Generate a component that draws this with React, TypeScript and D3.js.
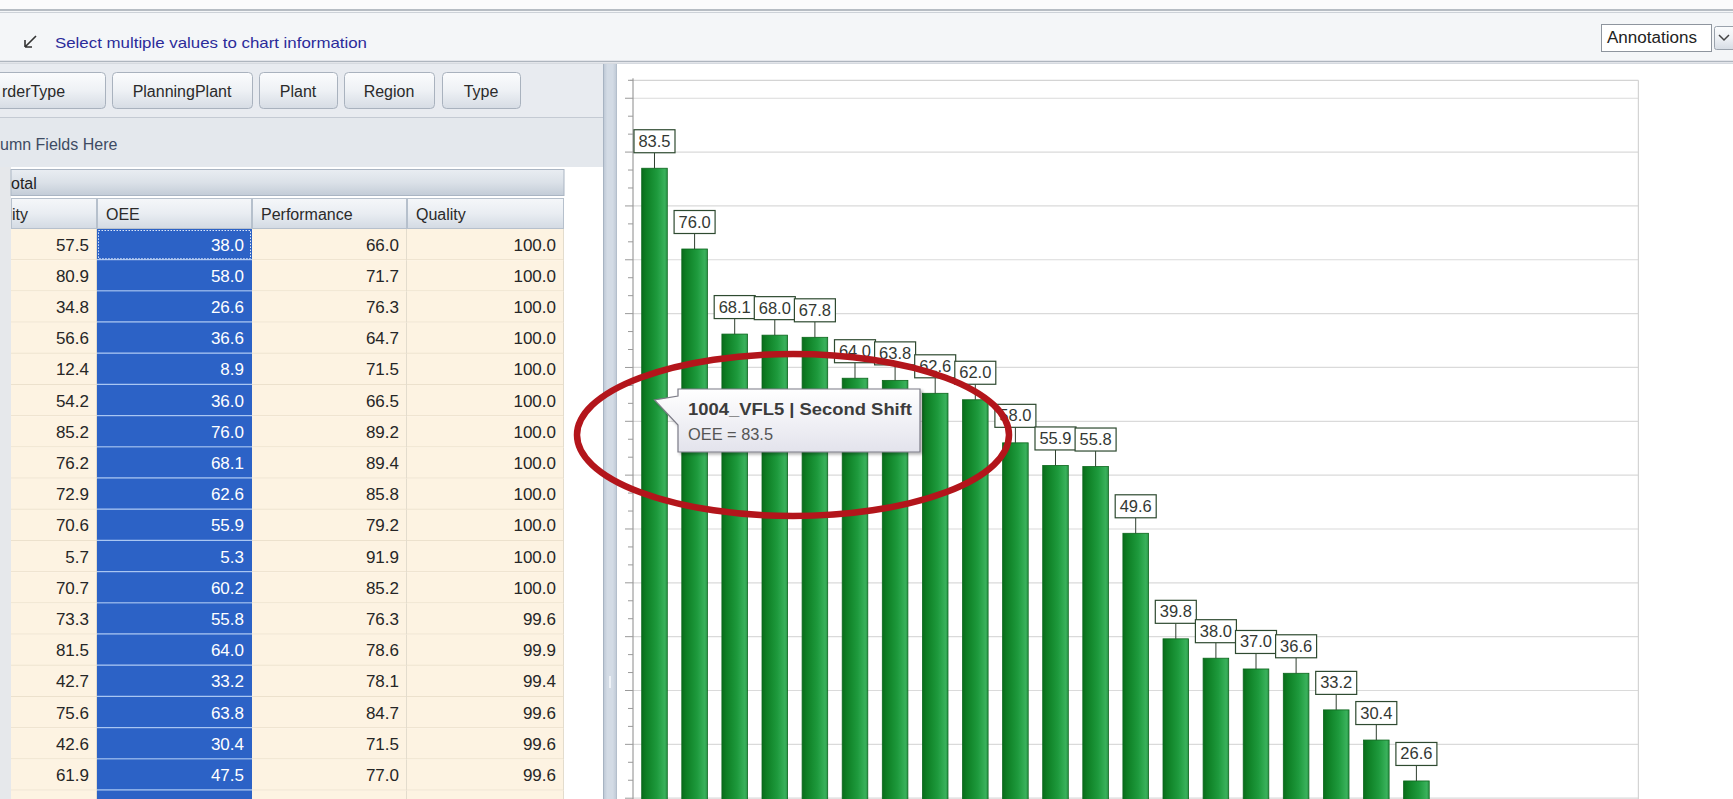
import React from 'react';
import * as d3 from 'd3';

// ---------- DATA ----------
const CATEGORIES = [
  '1004_VFL5 | Second Shift', 'C02', 'C03', 'C04', 'C05', 'C06', 'C07', 'C08', 'C09', 'C10',
  'C11', 'C12', 'C13', 'C14', 'C15', 'C16', 'C17', 'C18', 'C19', 'C20',
  'C21', 'C22', 'C23', 'C24', 'C25',
];
const OEE_VALUES = [
  83.5, 76.0, 68.1, 68.0, 67.8, 64.0, 63.8, 62.6, 62.0, 58.0,
  55.9, 55.8, 49.6, 39.8, 38.0, 37.0, 36.6, 33.2, 30.4, 26.6,
  21.1, 17.0, 12.4, 8.9, 5.3,
];
const Y_AXIS_MAX = 90 + 5 / 3;
const GRID_STEP = 5;
const MINOR_DIVISIONS = 3;

const TOOLTIP_TITLE = '1004_VFL5 | Second Shift';
const TOOLTIP_BODY = 'OEE = 83.5';

const FIELD_BUTTONS = ['rderType', 'PlanningPlant', 'Plant', 'Region', 'Type'];
const TABLE_HEADERS = ['ity', 'OEE', 'Performance', 'Quality'];
const AVAILABILITY_COL = ['57.5', '80.9', '34.8', '56.6', '12.4', '54.2', '85.2', '76.2', '72.9', '70.6', '5.7', '70.7', '73.3', '81.5', '42.7', '75.6', '42.6', '61.9'];
const OEE_COL = ['38.0', '58.0', '26.6', '36.6', '8.9', '36.0', '76.0', '68.1', '62.6', '55.9', '5.3', '60.2', '55.8', '64.0', '33.2', '63.8', '30.4', '47.5'];
const PERFORMANCE_COL = ['66.0', '71.7', '76.3', '64.7', '71.5', '66.5', '89.2', '89.4', '85.8', '79.2', '91.9', '85.2', '76.3', '78.6', '78.1', '84.7', '71.5', '77.0'];
const QUALITY_COL = ['100.0', '100.0', '100.0', '100.0', '100.0', '100.0', '100.0', '100.0', '100.0', '100.0', '100.0', '100.0', '99.6', '99.9', '99.4', '99.6', '99.6', '99.6'];

// ---------- LAYOUT ----------
const W = 1733;
const H = 799;
const FONT = '"Liberation Sans", Arial, sans-serif';

const PLOT = { left: 633, right: 1638.4, top: 80.3, zeroY: 1067.4 };

const COL_EDGES = [11, 97, 252, 407, 564];
const HEADER_TOP = 198;
const ROW_TOP = 229;
const ROW_H = 31.2;

const BUTTON_X = [[-10, 105], [112, 252], [259, 337], [344, 434], [442, 520]];

export default function App() {
  React.useEffect(() => {
    document.body.style.margin = '0';
  }, []);

  const x = d3
    .scaleBand<string>()
    .domain(CATEGORIES)
    .range([PLOT.left, PLOT.right])
    .paddingInner(0.362)
    .paddingOuter(0.217);
  const y = d3.scaleLinear().domain([0, Y_AXIS_MAX]).range([PLOT.zeroY, PLOT.top]);
  const bw = x.bandwidth();

  const gridVals = d3.range(GRID_STEP, Y_AXIS_MAX, GRID_STEP);
  const minorStep = GRID_STEP / MINOR_DIVISIONS;
  const minorVals = d3.range(minorStep, Y_AXIS_MAX + 0.01, minorStep);

  const rows = AVAILABILITY_COL.map((a, i) => [a, OEE_COL[i], PERFORMANCE_COL[i], QUALITY_COL[i]]);
  const rowCount = rows.length + 1;

  // tooltip anchored at first bar
  const tipX = (x(CATEGORIES[0]) as number) + bw / 2;
  const tipY = 400;
  const tb = { x: 678, y: 389, w: 242, h: 63 };

  const LABEL_GAP = 15.5;
  const LABEL_H = 23;

  return (
    <svg
      width={W}
      height={H}
      style={{ position: 'fixed', left: 0, top: 0, display: 'block', background: '#ffffff' }}
      fontFamily={FONT}
    >
      <defs>
        <linearGradient id="barGrad" x1="0" x2="1" y1="0" y2="0">
          <stop offset="0" stopColor="#0a6c1b" />
          <stop offset="0.18" stopColor="#0e7f24" />
          <stop offset="0.6" stopColor="#1e9a3d" />
          <stop offset="0.9" stopColor="#39b15b" />
          <stop offset="1" stopColor="#2b9549" />
        </linearGradient>
        <linearGradient id="btnGrad" x1="0" x2="0" y1="0" y2="1">
          <stop offset="0" stopColor="#fbfcfd" />
          <stop offset="0.5" stopColor="#eef1f5" />
          <stop offset="1" stopColor="#d6dce4" />
        </linearGradient>
        <linearGradient id="hdrGrad" x1="0" x2="0" y1="0" y2="1">
          <stop offset="0" stopColor="#f5f7f9" />
          <stop offset="0.5" stopColor="#e9edf2" />
          <stop offset="1" stopColor="#d3dae3" />
        </linearGradient>
        <linearGradient id="totGrad" x1="0" x2="0" y1="0" y2="1">
          <stop offset="0" stopColor="#e9edf2" />
          <stop offset="0.5" stopColor="#dbe1e8" />
          <stop offset="1" stopColor="#c3ccd7" />
        </linearGradient>
        <linearGradient id="tipGrad" x1="0" x2="0" y1="0" y2="1">
          <stop offset="0" stopColor="#ffffff" />
          <stop offset="1" stopColor="#e3e3ec" />
        </linearGradient>
        <linearGradient id="splitGrad" x1="0" x2="1" y1="0" y2="0">
          <stop offset="0" stopColor="#b9c4d2" />
          <stop offset="0.3" stopColor="#d3dbe5" />
          <stop offset="0.7" stopColor="#d3dbe5" />
          <stop offset="1" stopColor="#bcc6d3" />
        </linearGradient>
        <filter id="shadow" x="-10%" y="-10%" width="130%" height="140%">
          <feDropShadow dx="2" dy="2" stdDeviation="1.8" floodColor="#000" floodOpacity="0.3" />
        </filter>
        <clipPath id="tableClip">
          <rect x={0} y={0} width={603} height={H} />
        </clipPath>
      </defs>

      {/* ---------- top toolbar ---------- */}
      <rect x={0} y={0} width={W} height={63} fill="#f4f6f8" />
      <rect x={0} y={0} width={W} height={9} fill="#fbfbfc" />
      <line x1={0} x2={W} y1={10} y2={10} stroke="#a3aab3" strokeWidth={1.5} />
      <line x1={0} x2={W} y1={12.5} y2={12.5} stroke="#cdd2d8" strokeWidth={1} />
      <line x1={0} x2={W} y1={61.5} y2={61.5} stroke="#aeb5be" strokeWidth={1.5} />
      <line x1={0} x2={W} y1={63.5} y2={63.5} stroke="#d6dae0" strokeWidth={1} />
      {/* arrow icon */}
      <path d="M36,36 L25,47 M25,47 L25,40 M25,47 L32,47" stroke="#333" strokeWidth={1.6} fill="none" />
      <text x={55} y={48} fontSize={15} fill="#2b2b9a" textLength={312} lengthAdjust="spacingAndGlyphs">
        Select multiple values to chart information
      </text>
      {/* Annotations dropdown */}
      <rect x={1601.5} y={24.5} width={110} height={27} fill="#ffffff" stroke="#8e959e" />
      <text x={1607} y={43} fontSize={16} fill="#222" textLength={90} lengthAdjust="spacingAndGlyphs">
        Annotations
      </text>
      <rect x={1714.5} y={26.5} width={22} height={23} rx={2} fill="url(#btnGrad)" stroke="#9aa2ac" />
      <path d="M1719,35 L1724,40 L1729,35" stroke="#444" strokeWidth={1.5} fill="none" />

      {/* ---------- left panel ---------- */}
      <g clipPath="url(#tableClip)">
        <rect x={0} y={64} width={603} height={H - 64} fill="#ffffff" />
        <rect x={0} y={64} width={603} height={103} fill="#e8ebf0" />
        <line x1={0} x2={603} y1={117.5} y2={117.5} stroke="#c4cad3" />
        <rect x={0} y={118} width={603} height={49} fill="#e4e8ed" />
        {FIELD_BUTTONS.map((b, i) => {
          const [x0, x1] = BUTTON_X[i];
          return (
            <g key={b}>
              <rect x={x0 + 0.5} y={72.5} width={x1 - x0} height={36} rx={4} fill="url(#btnGrad)" stroke="#a9b2be" />
              <text
                x={i === 0 ? 2 : (x0 + x1) / 2}
                y={97}
                fontSize={16}
                fill="#2a2a2a"
                textAnchor={i === 0 ? 'start' : 'middle'}
              >
                {b}
              </text>
            </g>
          );
        })}
        <text x={0} y={150} fontSize={16} fill="#3e4b63">umn Fields Here</text>

        {/* left gray strip */}
        <rect x={0} y={167} width={11} height={H - 167} fill="#e6e8eb" />

        {/* grand total band */}
        <rect x={11} y={169.5} width={553} height={26} fill="url(#totGrad)" stroke="#aab5c3" />
        <text x={11} y={189} fontSize={16} fill="#222">otal</text>

        {/* column headers */}
        {TABLE_HEADERS.map((h, i) => (
          <g key={h}>
            <rect
              x={COL_EDGES[i] + 0.5}
              y={HEADER_TOP + 0.5}
              width={COL_EDGES[i + 1] - COL_EDGES[i] - 1}
              height={ROW_TOP - HEADER_TOP - 1}
              fill="url(#hdrGrad)"
              stroke="#b6c0cc"
            />
            <text x={i === 0 ? 12 : COL_EDGES[i] + 9} y={220} fontSize={16} fill="#2a2a2a">
              {h}
            </text>
          </g>
        ))}

        {/* rows */}
        {d3.range(rowCount).map((r) => {
          const top = ROW_TOP + r * ROW_H;
          const vals = rows[r];
          return (
            <g key={r}>
              {d3.range(4).map((c) => {
                const isOee = c === 1;
                return (
                  <g key={c}>
                    <rect
                      x={COL_EDGES[c]}
                      y={top}
                      width={COL_EDGES[c + 1] - COL_EDGES[c]}
                      height={ROW_H}
                      fill={isOee ? '#2c62c6' : '#fdf3e2'}
                    />
                    <line
                      x1={COL_EDGES[c]}
                      x2={COL_EDGES[c + 1]}
                      y1={top + ROW_H - 0.5}
                      y2={top + ROW_H - 0.5}
                      stroke={isOee ? '#a9c6f2' : '#ece1cd'}
                      strokeWidth={isOee ? 1.5 : 1}
                    />
                    {!isOee && (
                      <line
                        x1={COL_EDGES[c + 1] - 0.5}
                        x2={COL_EDGES[c + 1] - 0.5}
                        y1={top}
                        y2={top + ROW_H}
                        stroke="#e3dccd"
                      />
                    )}
                    {vals && (
                      <text
                        x={COL_EDGES[c + 1] - 8}
                        y={top + 21.5}
                        fontSize={17}
                        textAnchor="end"
                        fill={isOee ? '#ffffff' : '#262626'}
                      >
                        {vals[c]}
                      </text>
                    )}
                  </g>
                );
              })}
            </g>
          );
        })}
        {/* focused cell */}
        <rect
          x={COL_EDGES[1] + 1.5}
          y={ROW_TOP + 1.5}
          width={COL_EDGES[2] - COL_EDGES[1] - 3}
          height={ROW_H - 3}
          fill="none"
          stroke="#dfe8f8"
          strokeDasharray="1.5 1.5"
        />
      </g>

      {/* splitter */}
      <rect x={603} y={64} width={14} height={H - 64} fill="url(#splitGrad)" />
      <line x1={603.5} x2={603.5} y1={64} y2={H} stroke="#a7b3c2" />
      <line x1={616.5} x2={616.5} y1={64} y2={H} stroke="#b4bfcc" />
      <line x1={610} x2={610} y1={676} y2={688} stroke="#eef2f7" strokeWidth={2} />

      {/* ---------- chart panel ---------- */}
      <rect x={617} y={64} width={W - 617} height={H - 64} fill="#ffffff" />

      {/* grid */}
      {gridVals.map((v) => (
        <line key={v} x1={PLOT.left} x2={PLOT.right} y1={y(v)} y2={y(v)} stroke="#dadada" strokeWidth={1.2} />
      ))}
      <line x1={PLOT.left - 3} x2={PLOT.right} y1={PLOT.top} y2={PLOT.top} stroke="#d4d4d4" strokeWidth={1.2} />
      <line x1={PLOT.right} x2={PLOT.right} y1={PLOT.top} y2={H} stroke="#d4d4d4" strokeWidth={1.2} />

      {/* y axis */}
      <line x1={PLOT.left} x2={PLOT.left} y1={PLOT.top - 2} y2={H} stroke="#8a8a8a" strokeWidth={1} />
      {minorVals.map((v, i) => {
        const major = (i + 1) % MINOR_DIVISIONS === 0;
        return (
          <line
            key={i}
            x1={PLOT.left - (major ? 8 : 5)}
            x2={PLOT.left}
            y1={y(v)}
            y2={y(v)}
            stroke="#9a9a9a"
            strokeWidth={1}
          />
        );
      })}

      {/* bars */}
      {CATEGORIES.map((c, i) => {
        const v = OEE_VALUES[i];
        return (
          <rect
            key={c}
            x={x(c)}
            y={y(v)}
            width={bw}
            height={y(0) - y(v)}
            fill="url(#barGrad)"
            stroke="#0c661c"
            strokeWidth={0.8}
          />
        );
      })}

      {/* value labels (only those whose box lies in the visible area) */}
      {CATEGORIES.map((c, i) => {
        const v = OEE_VALUES[i];
        const cx = (x(c) as number) + bw / 2;
        const top = y(v);
        const boxBottom = top - LABEL_GAP;
        if (boxBottom - LABEL_H > H) return null;
        return (
          <g key={c}>
            <line x1={cx} x2={cx} y1={boxBottom} y2={top} stroke="#2f3f2f" strokeWidth={1} />
            <rect x={cx - 20.5} y={boxBottom - LABEL_H} width={41} height={LABEL_H} fill="#ffffff" stroke="#2e4a30" strokeWidth={1.2} />
            <text x={cx} y={boxBottom - 6} fontSize={16.5} textAnchor="middle" fill="#333833">
              {v.toFixed(1)}
            </text>
          </g>
        );
      })}

      {/* tooltip */}
      <g filter="url(#shadow)">
        <path
          d={`M${tb.x},${tb.y} H${tb.x + tb.w} V${tb.y + tb.h} H${tb.x} V425 L${tipX},${tipY} L${tb.x},396 Z`}
          fill="url(#tipGrad)"
          stroke="#7b7b86"
          strokeWidth={1.2}
        />
      </g>
      <text x={688} y={415} fontSize={16.5} fontWeight="bold" fill="#3c3c3c" textLength={224} lengthAdjust="spacingAndGlyphs">
        {TOOLTIP_TITLE}
      </text>
      <text x={688} y={440} fontSize={16} fill="#555555" textLength={85} lengthAdjust="spacingAndGlyphs">
        {TOOLTIP_BODY}
      </text>

      {/* red annotation ellipse */}
      <ellipse cx={793} cy={435} rx={216} ry={81} fill="none" stroke="#b3151b" strokeWidth={6.5} />
    </svg>
  );
}
